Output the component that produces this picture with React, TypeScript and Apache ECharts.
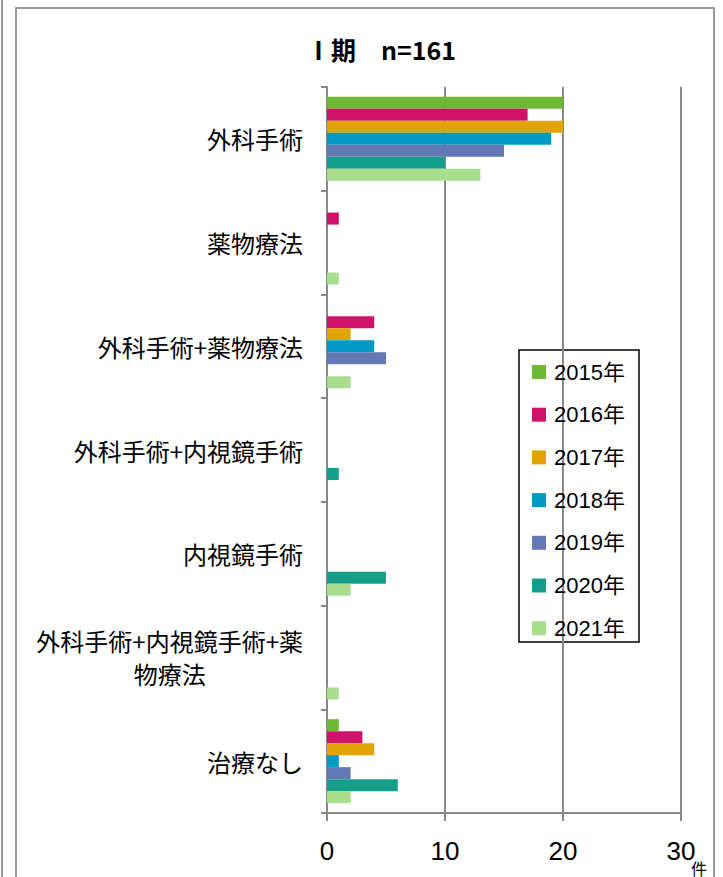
import React, { useEffect, useRef } from "react";
import * as echarts from "echarts";

const categories = [
  "外科手術",
  "薬物療法",
  "外科手術+薬物療法",
  "外科手術+内視鏡手術",
  "内視鏡手術",
  "外科手術+内視鏡手術+薬物療法",
  "治療なし",
];
const seriesNames = ["2015年", "2016年", "2017年", "2018年", "2019年", "2020年", "2021年"];
const colors = ["#6fb833", "#d01169", "#e2a305", "#019ac4", "#6478b3", "#149f8b", "#aade8f"];
const y2015 = [20, 0, 0, 0, 0, 0, 1];
const y2016 = [17, 1, 4, 0, 0, 0, 3];
const y2017 = [20, 0, 2, 0, 0, 0, 4];
const y2018 = [19, 0, 4, 0, 0, 0, 1];
const y2019 = [15, 0, 5, 0, 0, 0, 2];
const y2020 = [10, 0, 0, 1, 5, 0, 6];
const y2021 = [13, 1, 2, 0, 2, 1, 2];
const seriesValues = [y2015, y2016, y2017, y2018, y2019, y2020, y2021];
const xTicks = { min: 0, max: 30, interval: 10 };
const titleText = "Ⅰ期　n=161";
const unitText = "件";

const CJK = "'Noto Sans CJK JP', 'Noto Sans', sans-serif";
const NUM = "'Liberation Sans', 'Noto Sans CJK JP', sans-serif";

export default function App() {
  const ref = useRef<HTMLDivElement>(null);
  useEffect(() => {
    if (!ref.current) return;
    const chart = echarts.init(ref.current, undefined, { renderer: "svg" });
    const longLabel = categories[5];
    chart.setOption({
      animation: false,
      backgroundColor: "#ffffff",
      grid: { left: 327, right: 42, top: 87, bottom: 64, containLabel: false },
      xAxis: {
        type: "value",
        min: xTicks.min,
        max: xTicks.max,
        interval: xTicks.interval,
        axisLine: { show: true, lineStyle: { color: "#888888", width: 2 } },
        axisTick: { show: true, length: 8, lineStyle: { color: "#888888", width: 2 } },
        splitLine: { show: true, lineStyle: { color: "#888888", width: 2 } },
        axisLabel: { fontSize: 26, color: "#000000", fontFamily: NUM, margin: 25 },
      },
      yAxis: {
        type: "category",
        inverse: true,
        data: categories,
        axisLine: { show: true, lineStyle: { color: "#888888", width: 2 } },
        axisTick: { show: true, length: 6, lineStyle: { color: "#888888", width: 2 } },
        axisLabel: {
          fontSize: 24,
          color: "#000000",
          fontFamily: CJK,
          margin: 24,
          interval: 0,
          formatter: (v: string) =>
            v === longLabel ? "{a|外科手術+内視鏡手術+薬}\n{b|物療法}" : v,
          rich: {
            a: { fontSize: 24, fontFamily: CJK, color: "#000000", lineHeight: 33 },
            b: { fontSize: 24, fontFamily: CJK, color: "#000000", lineHeight: 33, align: "center" },
          },
        },
      },
      legend: {
        orient: "vertical",
        left: 532,
        top: 361,
        itemWidth: 14,
        itemHeight: 14,
        itemGap: 20.7,
        icon: "rect",
        padding: 0,
        itemStyle: { borderWidth: 0 },
        textStyle: { fontSize: 22, color: "#000000", fontFamily: NUM, padding: [0, 0, 0, 3] },
        data: seriesNames,
      },
      series: seriesNames.map((name, i) => ({
        name,
        type: "bar",
        data: seriesValues[i],
        barGap: "0%",
        barCategoryGap: "19%",
        itemStyle: { color: colors[i] },
      })),
      graphic: [
        {
          type: "line",
          shape: { x1: 2, y1: 0, x2: 2, y2: 877 },
          style: { stroke: "#999999", lineWidth: 2 },
        },
        {
          type: "rect",
          shape: { x: 16, y: 8, width: 698, height: 900 },
          style: { fill: "none", stroke: "#999999", lineWidth: 2 },
          silent: true,
        },
        {
          type: "rect",
          shape: { x: 519, y: 350, width: 120, height: 292 },
          style: { fill: "none", stroke: "#000000", lineWidth: 1.5 },
          silent: true,
        },
        {
          type: "text",
          x: 381,
          y: 49,
          style: {
            text: titleText,
            fontSize: 25,
            fontWeight: "bold",
            fontFamily: CJK,
            fill: "#000000",
            align: "center",
            verticalAlign: "middle",
          },
        },
        {
          type: "text",
          x: 691,
          y: 868,
          style: {
            text: unitText,
            fontSize: 16,
            fontFamily: CJK,
            fill: "#000000",
            align: "left",
            verticalAlign: "middle",
          },
        },
      ],
    });
    return () => chart.dispose();
  }, []);
  return (
    <div
      ref={ref}
      style={{ position: "absolute", left: 0, top: 0, width: 723, height: 877 }}
    />
  );
}
